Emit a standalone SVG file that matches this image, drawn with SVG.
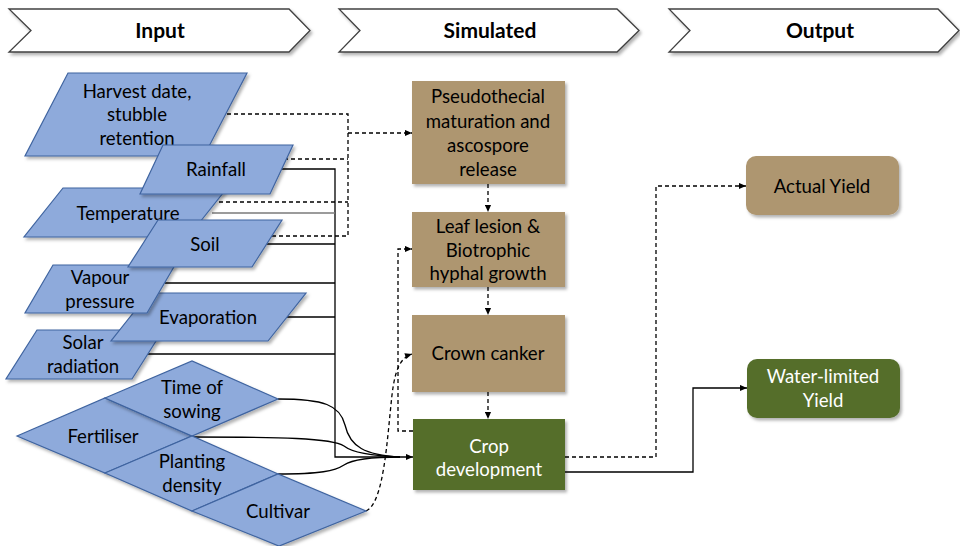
<svg xmlns="http://www.w3.org/2000/svg" width="960" height="546" viewBox="0 0 960 546">
<defs>
<filter id="sh" x="-10%" y="-10%" width="130%" height="140%"><feDropShadow dx="2" dy="2.5" stdDeviation="1.5" flood-color="#000" flood-opacity="0.3"/></filter>
<marker id="ah" viewBox="0 0 8 8" refX="8" refY="4" markerWidth="8" markerHeight="7" markerUnits="userSpaceOnUse" orient="auto"><path d="M0,0.5 L8,4 L0,7.5 Z" fill="#000"/></marker>
</defs>
<style>
text{font-family:Lato,"Liberation Sans",sans-serif;font-size:18.6px;text-anchor:middle;fill:#000}
.hd{fill:#fff;stroke:#404040;stroke-width:1.3;filter:url(#sh)}
.ht{font-weight:bold;font-size:21px}
.in{fill:#8EAADB;stroke:#3F64A0;stroke-width:1.2;filter:url(#sh)}
.tan{fill:#AE9670;filter:url(#sh)}
.grn{fill:#546E2C;filter:url(#sh)}
.w{fill:#fff}
.c{fill:none;stroke:#000;stroke-width:1.3}
.d{fill:none;stroke:#000;stroke-width:1.3;stroke-dasharray:4 3}
</style>
<rect width="960" height="546" fill="#fff"/>
<g id="hdr-input"><path class="hd" d="M9,9 H289 L310,30.5 L289,52 H9 L31,30.5 Z"/><text class="ht" x="160" y="38">Input</text></g>
<g id="hdr-simulated"><path class="hd" d="M339,9 H617 L639,30.5 L617,52 H339 L360,30.5 Z"/><text class="ht" x="490" y="38">Simulated</text></g>
<g id="hdr-output"><path class="hd" d="M669,9 H938 L959,30.5 L938,52 H669 L690,30.5 Z"/><text class="ht" x="820" y="38">Output</text></g>

<g id="connectors">
<path class="d" d="M220,114 H348 V236 H272"/>
<path class="d" d="M284,159 H348"/>
<path class="d" d="M219,202 H348"/>
<path class="d" d="M348,133 H412" marker-end="url(#ah)"/>
<path class="c" d="M280,169 H335 V457 H413" marker-end="url(#ah)"/>
<path class="c" d="M212,213 H335" style="stroke:#7a7a7a"/>
<path class="c" d="M267,244 H335"/>
<path class="c" d="M165,283 H335"/>
<path class="c" d="M287,317 H335"/>
<path class="c" d="M148,354 H335"/>
<path class="c" d="M278,399 C324,399 340,405 345,425 C350,447 365,455 400,457"/>
<path class="c" d="M192,437 C280,437 332,438 344,446 C353,453 372,456 400,457"/>
<path class="c" d="M278,474 C320,474 335,471 344,465 C353,459 372,457 400,457"/>
<path class="d" d="M366,511 C384,503 387,440 392,395 C395,370 400,358 412,354" marker-end="url(#ah)"/>
<path class="d" d="M413,431 H398 V249 H412" marker-end="url(#ah)"/>
<path class="d" d="M488,184 V212" marker-end="url(#ah)"/>
<path class="d" d="M488,287 V315" marker-end="url(#ah)"/>
<path class="d" d="M488,392 V419" marker-end="url(#ah)"/>
<path class="d" d="M565,457 H656 V186 H746" marker-end="url(#ah)"/>
<path class="c" d="M565,472 H693 V388 H747" marker-end="url(#ah)"/>
</g>

<g id="harvest"><path class="in" d="M68,73 H247 L204,156 H25 Z"/><text x="137" y="98">Harvest date,</text><text x="137" y="121">stubble</text><text x="137" y="145">retention</text></g>
<g id="temperature"><path class="in" d="M63,188 H227 L188,237 H24 Z"/><text x="128" y="220">Temperature</text></g>
<g id="solar"><path class="in" d="M37,330 H163 L132,379 H6 Z"/><text x="83" y="349">Solar</text><text x="83" y="373">radiation</text></g>
<g id="evaporation"><path class="in" d="M149,293 H306 L268,341 H111 Z"/><text x="208" y="324">Evaporation</text></g>
<g id="vapour"><path class="in" d="M53,265 H175 L147,313 H25 Z"/><text x="100" y="284">Vapour</text><text x="100" y="308">pressure</text></g>
<g id="soil"><path class="in" d="M158,220 H282 L252,267 H128 Z"/><text x="205" y="251">Soil</text></g>
<g id="rainfall"><path class="in" d="M163,145 H293 L270,194 H140 Z"/><text x="216" y="176">Rainfall</text></g>

<g id="fertiliser"><path class="in" d="M17,436 L105,398 L192,436 L105,473 Z"/><text x="103" y="443">Fertiliser</text></g>
<g id="sowing"><path class="in" d="M105,398 L192,361 L278,399 L192,436 Z"/><text x="192" y="394">Time of</text><text x="192" y="418">sowing</text></g>
<g id="planting"><path class="in" d="M105,473 L192,436 L278,474 L192,511 Z"/><text x="192" y="468">Planting</text><text x="192" y="492">density</text></g>
<g id="cultivar"><path class="in" d="M192,511 L278,474 L366,511 L279,546 Z"/><text x="278" y="518">Cultivar</text></g>

<g id="pseudothecial"><rect class="tan" x="412" y="81" width="153" height="103"/><text x="488" y="103">Pseudothecial</text><text x="488" y="128">maturation and</text><text x="488" y="152">ascospore</text><text x="488" y="176">release</text></g>
<g id="leaf"><rect class="tan" x="412" y="212" width="153" height="75"/><text x="488" y="233">Leaf lesion &amp;</text><text x="488" y="257">Biotrophic</text><text x="488" y="280">hyphal growth</text></g>
<g id="crown"><rect class="tan" x="412" y="315" width="153" height="77"/><text x="488" y="360">Crown canker</text></g>
<g id="crop"><rect class="grn" x="413" y="419" width="152" height="71"/><text class="w" x="489" y="453">Crop</text><text class="w" x="489" y="476">development</text></g>

<g id="actual"><rect class="tan" x="746" y="156" width="153" height="59" rx="10"/><text x="822" y="193">Actual Yield</text></g>
<g id="water"><rect class="grn" x="747" y="359" width="153" height="59" rx="10"/><text class="w" x="823" y="383">Water-limited</text><text class="w" x="823" y="407">Yield</text></g>
</svg>
